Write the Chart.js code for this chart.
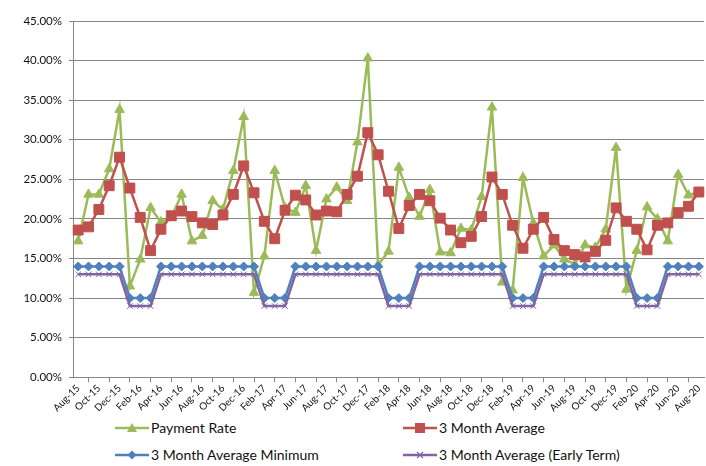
<!DOCTYPE html>
<html>
<head>
<meta charset="utf-8">
<script src="https://cdn.jsdelivr.net/npm/chart.js@4.4.1/dist/chart.umd.min.js"></script>
<style>
  html, body { margin: 0; padding: 0; background: #fff; overflow: hidden; }
  #wrap { position: relative; width: 706px; height: 466px; }
  #box { position: absolute; left: 0; top: 0; width: 706px; height: 414px; }
  .leg { position: absolute; height: 20px; font-family: Lato, "Open Sans", sans-serif; font-size: 14px; color: #111; white-space: nowrap; }
  .leg svg { position: absolute; left: 0; top: 0; }
  .leg span { position: absolute; top: 1px; left: 36px; }
</style>
</head>
<body>
<div id="wrap">
  <div id="box"><canvas id="myChart"></canvas></div>
  <div id="legend"></div>
</div>
<script>
// months Aug-15 .. Aug-20
var months = ['Aug-15','Sep-15','Oct-15','Nov-15','Dec-15','Jan-16','Feb-16','Mar-16','Apr-16','May-16',
  'Jun-16','Jul-16','Aug-16','Sep-16','Oct-16','Nov-16','Dec-16','Jan-17','Feb-17','Mar-17',
  'Apr-17','May-17','Jun-17','Jul-17','Aug-17','Sep-17','Oct-17','Nov-17','Dec-17','Jan-18',
  'Feb-18','Mar-18','Apr-18','May-18','Jun-18','Jul-18','Aug-18','Sep-18','Oct-18','Nov-18',
  'Dec-18','Jan-19','Feb-19','Mar-19','Apr-19','May-19','Jun-19','Jul-19','Aug-19','Sep-19',
  'Oct-19','Nov-19','Dec-19','Jan-20','Feb-20','Mar-20','Apr-20','May-20','Jun-20','Jul-20','Aug-20'];

var paymentRate = [17.2,23.1,23.1,26.3,33.8,11.5,14.9,21.4,19.6,20.2,
  23.1,17.2,17.9,22.3,21.2,26.1,32.9,10.7,15.3,26.1,
  21.4,20.8,24.2,16.0,22.5,24.0,22.3,29.7,40.3,14.2,
  15.9,26.5,22.7,20.3,23.7,15.8,15.7,18.8,18.6,22.8,
  34.1,12.0,11.0,25.2,19.5,15.3,16.7,14.9,14.3,16.7,
  16.4,18.7,29.0,11.1,16.0,21.5,20.0,17.2,25.6,23.0,23.4];

var avg3 = [18.6,19.0,21.2,24.2,27.8,23.9,20.2,16.0,18.7,20.4,
  21.0,20.3,19.5,19.3,20.5,23.1,26.7,23.3,19.7,17.5,
  21.1,23.0,22.4,20.5,21.0,20.9,23.1,25.4,30.9,28.1,
  23.5,18.8,21.7,23.1,22.3,20.1,18.6,17.0,17.8,20.3,
  25.3,23.1,19.2,16.3,18.7,20.2,17.4,16.0,15.5,15.2,
  15.9,17.3,21.4,19.7,18.7,16.1,19.2,19.5,20.8,21.6,23.4];

var avgMin = [14,14,14,14,14,10,10,10,14,14,
  14,14,14,14,14,14,14,14,10,10,
  10,14,14,14,14,14,14,14,14,14,
  10,10,10,14,14,14,14,14,14,14,
  14,14,10,10,10,14,14,14,14,14,
  14,14,14,14,10,10,10,14,14,14,14];

var avgEarly = [13,13,13,13,13,9,9,9,13,13,
  13,13,13,13,13,13,13,13,9,9,
  9,13,13,13,13,13,13,13,13,13,
  9,9,9,13,13,13,13,13,13,13,
  13,13,9,9,9,13,13,13,13,13,
  13,13,13,13,9,9,9,13,13,13,13];

var yTicks = [0,5,10,15,20,25,30,35,40,45];

var series = [
  {label: 'Payment Rate', data: paymentRate, color: '#9BBB59', style: 'triangle', r: 5.5},
  {label: '3 Month Average', data: avg3, color: '#C0504D', style: 'rect', r: 7},
  {label: '3 Month Average Minimum', data: avgMin, color: '#4F81BD', style: 'rectRot', r: 4.5},
  {label: '3 Month Average (Early Term)', data: avgEarly, color: '#8064A2', style: 'crossRot', r: 4}
];

var font = "Lato, 'Open Sans', sans-serif";
var ctx = document.getElementById('myChart').getContext('2d');
var myChart = new Chart(ctx, {
  type: 'line',
  data: {
    labels: months,
    datasets: series.map(function(s) {
      return {
        label: s.label,
        data: s.data,
        borderColor: s.color,
        backgroundColor: s.color,
        pointBorderColor: s.color,
        pointBackgroundColor: s.color,
        pointStyle: s.style,
        pointRadius: s.r,
        pointBorderWidth: 1,
        borderWidth: 2.5,
        tension: 0
      };
    }).reverse()
  },
  options: {
    responsive: true,
    maintainAspectRatio: false,
    animation: false,
    layout: { autoPadding: false, padding: { top: 21, right: 2, left: 0, bottom: 0 } },
    plugins: { legend: { display: false }, tooltip: { enabled: false } },
    scales: {
      x: {
        offset: true,
        afterFit: function(s) { s.paddingRight = 0; s.paddingLeft = 0; },
        grid: { display: true, drawOnChartArea: false, drawTicks: true, tickLength: 5, offset: true, color: '#868686' },
        border: { color: '#868686', width: 1 },
        ticks: {
          autoSkip: false, maxRotation: 45, minRotation: 45, padding: 0,
          color: '#111', font: { family: font, size: 10 },
          callback: function(v, i) { return i % 2 === 0 ? months[i] : null; }
        }
      },
      y: {
        min: 0, max: 45,
        afterBuildTicks: function(s) { s.ticks = yTicks.map(function(v) { return {value: v}; }); },
        afterFit: function(s) { s.width = 73; s.paddingTop = 0; },
        grid: { color: '#868686', tickLength: 4, lineWidth: 1 },
        border: { color: '#868686', width: 1 },
        ticks: {
          padding: 7, color: '#111', font: { family: font, size: 11.5 },
          callback: function(v) { return v.toFixed(2) + '%'; }
        }
      }
    }
  }
});

// legend laid out in two fixed columns like the original
var legPos = [[115, 418], [403, 418], [115, 445], [403, 445]];
var legendEl = document.getElementById('legend');
series.forEach(function(s, i) {
  var d = document.createElement('div');
  d.className = 'leg';
  d.style.left = legPos[i][0] + 'px';
  d.style.top = legPos[i][1] + 'px';
  var m = '';
  if (s.style === 'triangle') m = '<polygon points="17,5 22,14 12,14" fill="' + s.color + '"/>';
  if (s.style === 'rect') m = '<rect x="12" y="5" width="10" height="10" fill="' + s.color + '"/>';
  if (s.style === 'rectRot') m = '<polygon points="17,5.5 21.5,10 17,14.5 12.5,10" fill="' + s.color + '"/>';
  if (s.style === 'crossRot') m = '<path d="M14,7 L20,13 M20,7 L14,13" stroke="' + s.color + '" stroke-width="1.2"/>';
  d.innerHTML = '<svg width="36" height="20"><line x1="0" y1="10" x2="34" y2="10" stroke="' + s.color + '" stroke-width="2.5"/>' + m + '</svg>' +
    '<span>' + s.label + '</span>';
  legendEl.appendChild(d);
});
</script>
</body>
</html>
